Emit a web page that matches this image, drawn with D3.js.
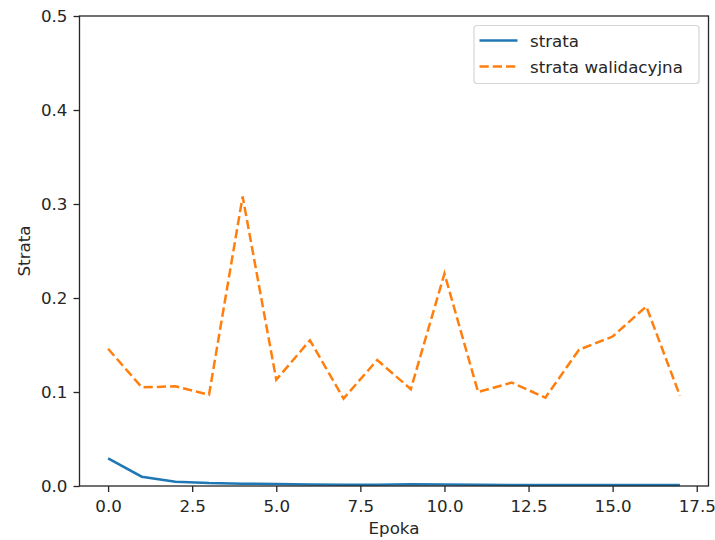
<!DOCTYPE html>
<html>
<head>
<meta charset="utf-8">
<script src="https://cdn.jsdelivr.net/npm/d3@7"></script>
<style>
  body { margin: 0; background: #fff; }
  svg text { font-family: "DejaVu Sans", sans-serif; fill: #262626; }
</style>
</head>
<body>
<div id="chart"></div>
<script>
var chart_width = 715;
var chart_height = 540;

var epochs = d3.range(18);
var loss = [0.0294, 0.0099, 0.0046, 0.0031, 0.0025, 0.0020, 0.0016, 0.0014, 0.0013, 0.0019, 0.0015, 0.0012, 0.0011, 0.0011, 0.0010, 0.0010, 0.0010, 0.0010];
var val_loss = [0.146, 0.105, 0.106, 0.097, 0.308, 0.113, 0.155, 0.093, 0.134, 0.103, 0.226, 0.100, 0.110, 0.094, 0.145, 0.159, 0.191, 0.096];
var x_ticks = [0, 2.5, 5, 7.5, 10, 12.5, 15, 17.5];
var y_ticks = [0, 0.1, 0.2, 0.3, 0.4, 0.5];
var series_names = ['strata', 'strata walidacyjna'];

// plot area
var plot_left = 79.5, plot_right = 708.5, plot_top = 16, plot_bottom = 486;
var font_size = '16.7px';

var svg = d3.select('#chart')
    .append('svg')
    .attr('width', chart_width)
    .attr('height', chart_height);

// scales (matplotlib 5% margin on x)
var x_scale = d3.scaleLinear()
    .domain([-0.85, 17.85])
    .range([plot_left, plot_right]);

var y_scale = d3.scaleLinear()
    .domain([0, 0.5])
    .range([plot_bottom, plot_top]);

// axes
var x_axis = d3.axisBottom(x_scale)
    .tickValues(x_ticks)
    .tickSize(6)
    .tickPadding(8.5)
    .tickFormat(d3.format('.1f'));

var y_axis = d3.axisLeft(y_scale)
    .tickValues(y_ticks)
    .tickSize(6)
    .tickPadding(6)
    .tickFormat(d3.format('.1f'));

var gx = svg.append('g')
    .attr('transform', `translate(0, ${plot_bottom})`)
    .call(x_axis);

var gy = svg.append('g')
    .attr('transform', `translate(${plot_left}, 0)`)
    .call(y_axis);

[gx, gy].forEach(g => {
    g.select('.domain').remove();
    g.selectAll('line').attr('stroke', '#262626').attr('stroke-width', 1.3);
    g.selectAll('text')
        .style('font-size', font_size)
        .style('font-family', '"DejaVu Sans", sans-serif')
        .attr('fill', '#262626');
});

// lines
var line = d3.line()
    .x((d, i) => x_scale(epochs[i]))
    .y(d => y_scale(d));

svg.append('path')
    .datum(loss)
    .attr('fill', 'none')
    .attr('stroke', '#1f77b4')
    .attr('stroke-width', 2.5)
    .attr('d', line);

svg.append('path')
    .datum(val_loss)
    .attr('fill', 'none')
    .attr('stroke', '#ff7f0e')
    .attr('stroke-width', 2.5)
    .attr('stroke-dasharray', '9.25,4')
    .attr('d', line);

// frame
svg.append('rect')
    .attr('x', plot_left)
    .attr('y', plot_top)
    .attr('width', plot_right - plot_left)
    .attr('height', plot_bottom - plot_top)
    .attr('fill', 'none')
    .attr('stroke', '#262626')
    .attr('stroke-width', 1.3);

// axis labels
svg.append('text')
    .attr('x', (plot_left + plot_right) / 2)
    .attr('y', 534)
    .attr('text-anchor', 'middle')
    .style('font-size', font_size)
    .text('Epoka');

svg.append('text')
    .attr('transform', `translate(30, ${(plot_top + plot_bottom) / 2}) rotate(-90)`)
    .attr('text-anchor', 'middle')
    .style('font-size', font_size)
    .text('Strata');

// legend
var legend = svg.append('g');
legend.append('rect')
    .attr('x', 474)
    .attr('y', 25.5)
    .attr('width', 225)
    .attr('height', 58)
    .attr('rx', 3)
    .attr('fill', '#fff')
    .attr('fill-opacity', 0.8)
    .attr('stroke', '#d6d6d6')
    .attr('stroke-width', 1.2);

var colors = ['#1f77b4', '#ff7f0e'];
var dashes = [null, '9.25,4'];
series_names.forEach((name, i) => {
    var yy = 40.5 + i * 26;
    legend.append('line')
        .attr('x1', 479.5)
        .attr('x2', 517.5)
        .attr('y1', yy)
        .attr('y2', yy)
        .attr('stroke', colors[i])
        .attr('stroke-width', 2.5)
        .attr('stroke-dasharray', dashes[i]);
    legend.append('text')
        .attr('x', 530)
        .attr('y', yy + 6.5)
        .style('font-size', font_size)
        .text(name);
});
</script>
</body>
</html>
